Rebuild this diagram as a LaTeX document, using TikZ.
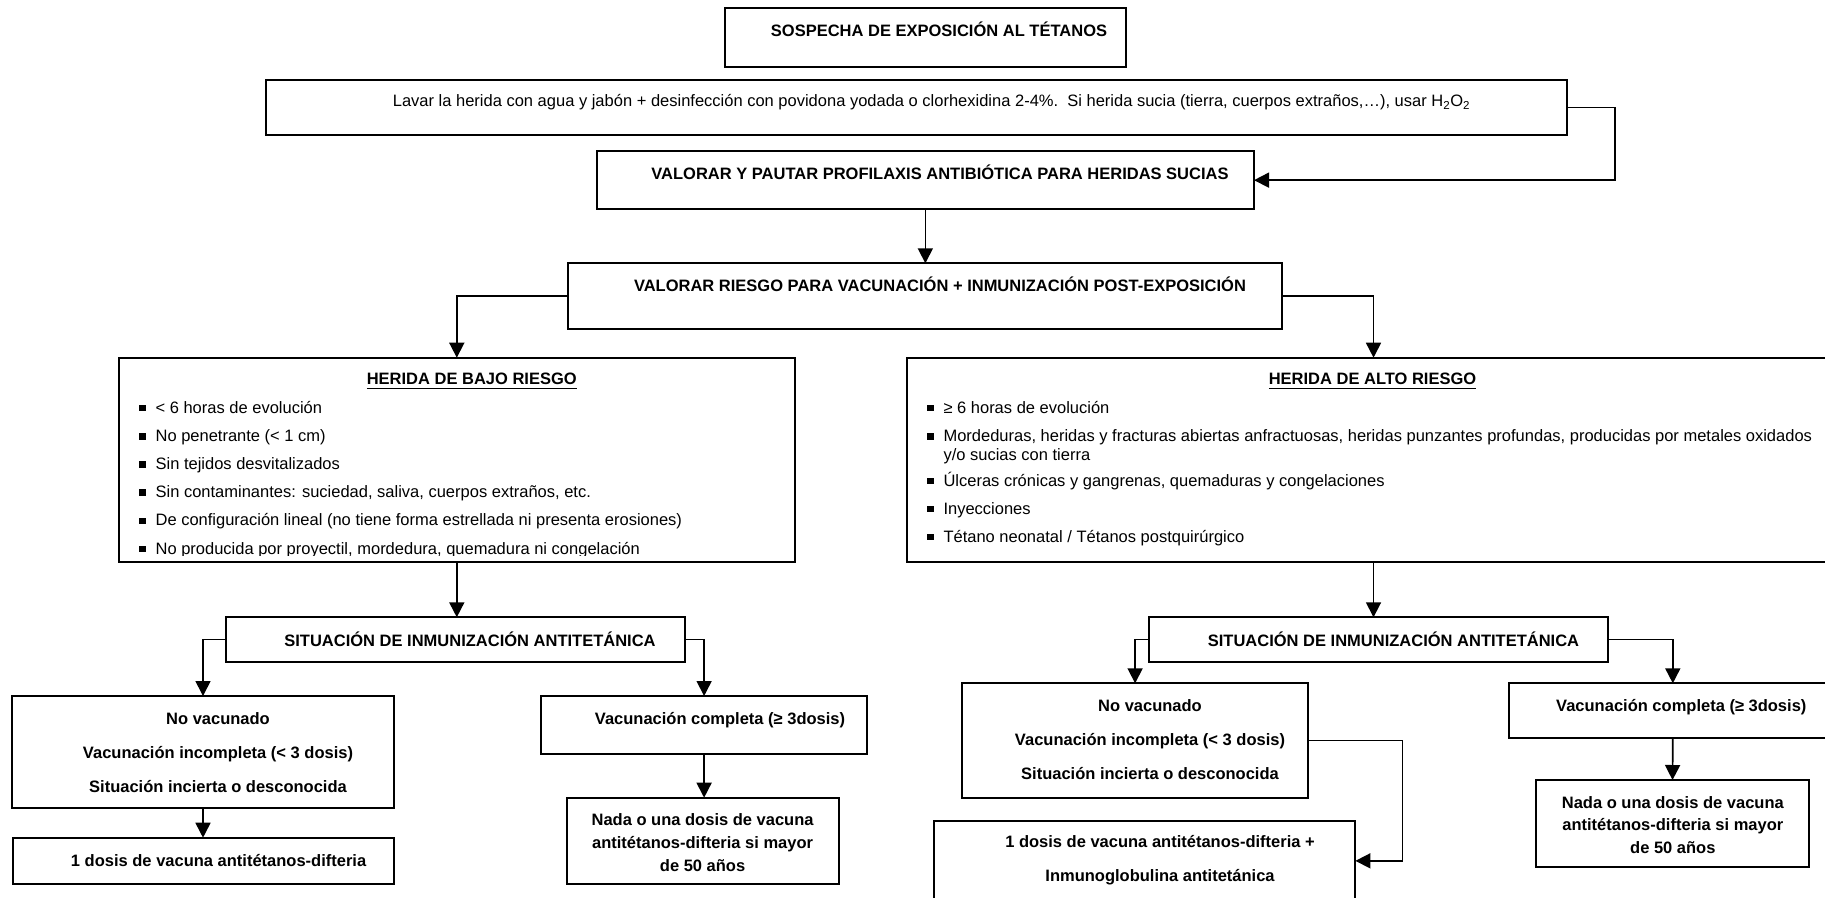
\documentclass[tikz,border=0pt]{standalone}
\usepackage{fontspec}
\setmainfont{Liberation Sans}
\usetikzlibrary{arrows.meta}
\begin{document}
\begin{tikzpicture}[x=1pt,y=-1pt,
  box/.style={draw=black,line width=2pt,rectangle,inner sep=0pt,outer sep=0pt},
  conn/.style={line width=1.7pt,-{Triangle[width=15pt,length=15pt]}},
  txt/.style={inner sep=0pt,outer sep=0pt,anchor=base,font=\fontsize{16.5}{18.5}\selectfont},
  btxt/.style={txt,font=\fontsize{16.5}{18.5}\selectfont\bfseries},
  ltxt/.style={txt,anchor=base west},
  bul/.style={fill=black}]
\useasboundingbox (0,0) rectangle (1825,897);
\fill[white] (0,0) rectangle (1825,897);
\begin{scope}
\clip (0,0) rectangle (1825,897);
% boxes
\node[box,minimum width=401.4pt,minimum height=59pt] (top) at (925.3,37.8) {};
\node[box,minimum width=1300.8pt,minimum height=55pt] (lavar) at (916.2,107.5) {};
\node[box,minimum width=657.3pt,minimum height=58.3pt] (vyp) at (925.35,180.15) {};
\node[box,minimum width=713.3pt,minimum height=66pt] (vr) at (925.05,296.3) {};
\node[box,minimum width=675.4pt,minimum height=204.6pt] (bajo) at (456.8,460) {};
\node[box,minimum width=933pt,minimum height=204.3pt] (alto) at (1373.5,459.85) {};
\node[box,minimum width=459.4pt,minimum height=44.4pt] (sit1) at (455.6,639.5) {};
\node[box,minimum width=459pt,minimum height=44.4pt] (sit2) at (1378.5,639.5) {};
\node[box,minimum width=382.6pt,minimum height=111.7pt] (novac1) at (203,751.85) {};
\node[box,minimum width=381.4pt,minimum height=46.6pt] (dosis1) at (203.6,861) {};
\node[box,minimum width=326.2pt,minimum height=58.3pt] (vc1) at (704.1,725.15) {};
\node[box,minimum width=272.2pt,minimum height=86.6pt] (nada1) at (702.9,841) {};
\node[box,minimum width=346.2pt,minimum height=114.4pt] (novac2) at (1135.1,740.5) {};
\node[box,minimum width=421.4pt,minimum height=80.3pt] (inmuno) at (1144.7,860.85) {};
\node[box,minimum width=341pt,minimum height=54.4pt] (vc2) at (1679.5,710.5) {};
\node[box,minimum width=273pt,minimum height=86.7pt] (nada2) at (1672.5,823.35) {};

% texts
\node[btxt] (ttop) at (939,36) {SOSPECHA DE EXPOSICIÓN AL TÉTANOS};
\node[txt] (tlavar) at (931.5,106.5) {Lavar la herida con agua y jabón + desinfección con povidona yodada o clorhexidina 2-4\%.\ \ Si herida sucia (tierra, cuerpos extraños,…), usar H\textsubscript{2}O\textsubscript{2}};
\node[btxt] (tvyp) at (940,179) {VALORAR Y PAUTAR PROFILAXIS ANTIBIÓTICA PARA HERIDAS SUCIAS};
\node[btxt] (tvr) at (940,291) {VALORAR RIESGO PARA VACUNACIÓN + INMUNIZACIÓN POST-EXPOSICIÓN};

\node[btxt] (tbajo) at (471.8,384.5) {HERIDA DE BAJO RIESGO};
\draw[line width=1.3pt] ([yshift=-4pt]tbajo.base west) -- ([yshift=-4pt]tbajo.base east);
\node[btxt] (talto) at (1372.5,384.5) {HERIDA DE ALTO RIESGO};
\draw[line width=1.3pt] ([yshift=-4pt]talto.base west) -- ([yshift=-4pt]talto.base east);

% bajo bullets
\foreach \yy in {413,441.2,469.4,497.6,525.8,554} {\fill[bul] (139,\yy-8.2) rectangle (145.5,\yy-1.7);}
\node[ltxt] (b1) at (155.6,413) {< 6 horas de evolución};
\node[ltxt] (b2) at (155.6,441.2) {No penetrante (< 1 cm)};
\node[ltxt] (b3) at (155.6,469.4) {Sin tejidos desvitalizados};
\node[ltxt] (b4) at (155.6,497.6) {Sin contaminantes: suciedad, saliva, cuerpos extraños, etc.};
\node[ltxt] (b5) at (155.6,525.8) {De configuración lineal (no tiene forma estrellada ni presenta erosiones)};
\begin{scope}
\clip (120,530) rectangle (790,555);
\node[ltxt] (b6) at (155.6,554) {No producida por proyectil, mordedura, quemadura ni congelación};
\end{scope}

% alto bullets
\foreach \yy in {413,441.5,486,514,542} {\fill[bul] (927,\yy-8.2) rectangle (933.5,\yy-1.7);}
\node[ltxt] (a1) at (943.5,413) {≥ 6 horas de evolución};
\node[ltxt] (a2) at (943.5,441.5) {Mordeduras, heridas y fracturas abiertas anfractuosas, heridas punzantes profundas, producidas por metales oxidados};
\node[ltxt] (a2b) at (943.5,460) {y/o sucias con tierra};
\node[ltxt] (a3) at (943.5,486) {Úlceras crónicas y gangrenas, quemaduras y congelaciones};
\node[ltxt] (a4) at (943.5,514) {Inyecciones};
\node[ltxt] (a5) at (943.5,542) {Tétano neonatal / Tétanos postquirúrgico};

\node[btxt] (tsit1) at (470,646) {SITUACIÓN DE INMUNIZACIÓN ANTITETÁNICA};
\node[btxt] (tsit2) at (1393.5,646) {SITUACIÓN DE INMUNIZACIÓN ANTITETÁNICA};

\node[btxt] (n1a) at (218,724.2) {No vacunado};
\node[btxt] (n1b) at (218,758.2) {Vacunación incompleta (< 3 dosis)};
\node[btxt] (n1c) at (218,792.6) {Situación incierta o desconocida};
\node[btxt] (td1) at (218.6,866) {1 dosis de vacuna antitétanos-difteria};
\node[btxt] (tvc1) at (720,724.2) {Vacunación completa (≥ 3dosis)};
\node[btxt] (na1) at (702.6,825.2) {Nada o una dosis de vacuna};
\node[btxt] (na2) at (702.6,848.2) {antitétanos-difteria si mayor};
\node[btxt] (na3) at (702.6,871) {de 50 años};

\node[btxt] (n2a) at (1150,711) {No vacunado};
\node[btxt] (n2b) at (1150,745.5) {Vacunación incompleta (< 3 dosis)};
\node[btxt] (n2c) at (1150,779) {Situación incierta o desconocida};
\node[btxt] (ti1) at (1160,847) {1 dosis de vacuna antitétanos-difteria +};
\node[btxt] (ti2) at (1160,881.8) {Inmunoglobulina antitetánica};
\node[btxt] (tvc2) at (1681.3,711.7) {Vacunación completa (≥ 3dosis)};
\node[btxt] (nb1) at (1672.8,808) {Nada o una dosis de vacuna};
\node[btxt] (nb2) at (1672.8,830.5) {antitétanos-difteria si mayor};
\node[btxt] (nb3) at (1672.8,853) {de 50 años};

% connectors
\coordinate (fb) at (1615,0);
\coordinate (fb2) at (1402.6,0);
\coordinate (r2) at (1672.8,0);
\draw[conn] (lavar.east) -- (lavar.east -| fb) |- (vyp.east);
\draw[conn] (vyp.south) -- (vyp.south |- vr.north);
\draw[conn] (vr.west) -| (bajo.north);
\draw[conn] (vr.east) -| (alto.north);
\draw[conn] (bajo.south) -- (bajo.south |- sit1.north);
\draw[conn] (alto.south) -- (alto.south |- sit2.north);
\draw[conn] (sit1.west) -| (novac1.north);
\draw[conn] (sit1.east) -| (vc1.north);
\draw[conn] (novac1.south) -- (novac1.south |- dosis1.north);
\draw[conn] (vc1.south) -- (vc1.south |- nada1.north);
\draw[conn] (sit2.west) -| (novac2.north);
\draw[conn] (sit2.east) -| (r2 |- vc2.north);
\draw[conn] (vc2.south -| r2) -- (nada2.north);
\draw[conn] (novac2.east) -- (novac2.east -| fb2) |- (inmuno.east);
\end{scope}
\end{tikzpicture}
\end{document}
